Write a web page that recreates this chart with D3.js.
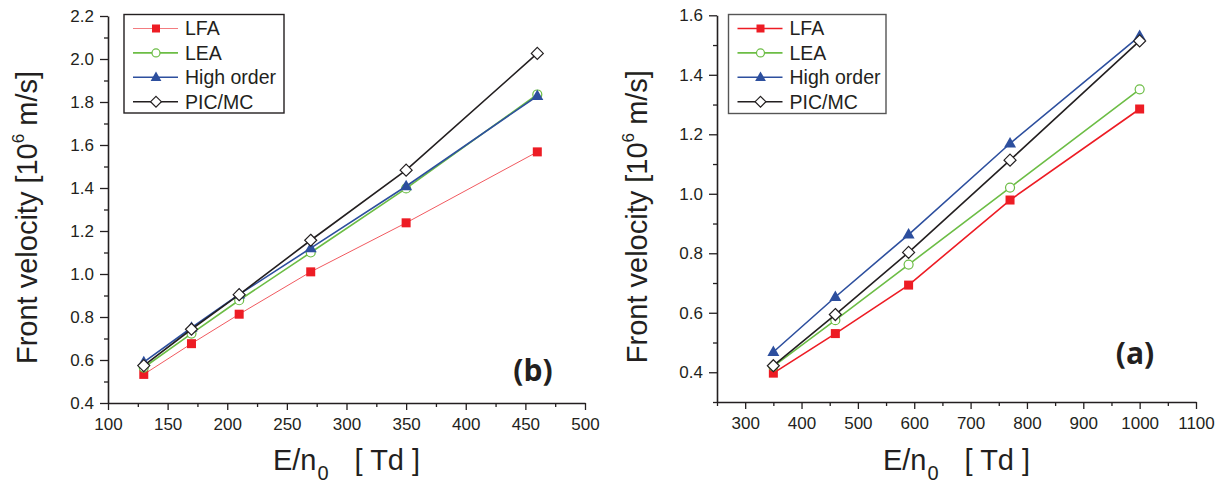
<!DOCTYPE html>
<html>
<head>
<meta charset="utf-8">
<script src="https://cdn.jsdelivr.net/npm/d3@7"></script>
<style>
  html, body { margin: 0; padding: 0; background: #fff; }
  svg { display: block; }
</style>
</head>
<body>
<svg id="chart" width="1224" height="484"></svg>
<script>
// ---------- data ----------
const seriesNames = ["LFA", "LEA", "High order", "PIC/MC"];

// panel (b) — left
const xB = [130, 170, 210, 270, 350, 460];
const lfaB  = [0.533, 0.676, 0.813, 1.010, 1.238, 1.568];
const leaB  = [0.565, 0.723, 0.878, 1.100, 1.398, 1.835];
const highB = [0.590, 0.750, 0.905, 1.120, 1.408, 1.828];
const picB  = [0.574, 0.743, 0.904, 1.157, 1.483, 2.026];
const xTicksB = [100, 150, 200, 250, 300, 350, 400, 450, 500];
const xMinorB = [125, 175, 225, 275, 325, 375, 425, 475];
const yTicksB = [0.4, 0.6, 0.8, 1.0, 1.2, 1.4, 1.6, 1.8, 2.0, 2.2];
const yMinorB = [0.5, 0.7, 0.9, 1.1, 1.3, 1.5, 1.7, 1.9, 2.1];

// panel (a) — right
const xA = [350, 460, 590, 770, 1000];
const lfaA  = [0.397, 0.530, 0.693, 0.979, 1.285];
const leaA  = [0.420, 0.575, 0.762, 1.021, 1.351];
const highA = [0.468, 0.653, 0.863, 1.169, 1.530];
const picA  = [0.422, 0.594, 0.803, 1.113, 1.514];
const xTicksA = [300, 400, 500, 600, 700, 800, 900, 1000, 1100];
const xMinorA = [250, 350, 450, 550, 650, 750, 850, 950, 1050];
const yTicksA = [0.4, 0.6, 0.8, 1.0, 1.2, 1.4, 1.6];
const yMinorA = [0.3, 0.5, 0.7, 0.9, 1.1, 1.3, 1.5];

// ---------- styles ----------
const colors = { "LFA": "#ed1c24", "LEA": "#6cbd45", "High order": "#2d4f9e", "PIC/MC": "#231f20" };
const axisColor = "#231f20";
const fontSans = "Liberation Sans, Arial, Helvetica, sans-serif";

const svg = d3.select("#chart");

function drawMarker(g, name, x, y, s) {
  const c = colors[name];
  if (name === "LFA") {
    g.append("rect").attr("x", x - s / 2).attr("y", y - s / 2).attr("width", s).attr("height", s)
      .attr("fill", c).attr("stroke", "none");
  } else if (name === "LEA") {
    g.append("circle").attr("cx", x).attr("cy", y).attr("r", s / 2)
      .attr("fill", "#fff").attr("stroke", c).attr("stroke-width", 1.2);
  } else if (name === "High order") {
    const w = s * 1.2, h = s * 1.05;
    g.append("path").attr("d", `M${x},${y - h * 0.62}L${x + w / 2},${y + h * 0.38}L${x - w / 2},${y + h * 0.38}Z`)
      .attr("fill", c).attr("stroke", "none");
  } else {
    const r = s * 0.6;
    g.append("path").attr("d", `M${x},${y - r}L${x + r},${y}L${x},${y + r}L${x - r},${y}Z`)
      .attr("fill", "#fff").attr("stroke", c).attr("stroke-width", 1.2);
  }
}

function panel(opt) {
  const g = svg.append("g");
  const x = d3.scaleLinear().domain(opt.xDomain).range(opt.xRange);
  const y = d3.scaleLinear().domain(opt.yDomain).range(opt.yRange);
  const y0 = opt.yRange[0], x0 = opt.xRange[0];

  // minor ticks
  g.append("g").attr("transform", `translate(0,${y0})`)
    .call(d3.axisBottom(x).tickValues(opt.xMinor).tickSize(4).tickSizeOuter(0).tickFormat(""))
    .call(a => a.select(".domain").remove())
    .call(a => a.selectAll("line").attr("stroke", axisColor).attr("stroke-width", 1.3));
  g.append("g").attr("transform", `translate(${x0},0)`)
    .call(d3.axisLeft(y).tickValues(opt.yMinor).tickSize(4).tickSizeOuter(0).tickFormat(""))
    .call(a => a.select(".domain").remove())
    .call(a => a.selectAll("line").attr("stroke", axisColor).attr("stroke-width", 1.3));

  // major axes
  g.append("g").attr("transform", `translate(0,${y0})`)
    .call(d3.axisBottom(x).tickValues(opt.xTicks).tickSize(7).tickSizeOuter(0).tickPadding(8).tickFormat(d3.format("d")))
    .call(a => a.select(".domain").attr("stroke", axisColor).attr("stroke-width", 1.6))
    .call(a => a.selectAll("line").attr("stroke", axisColor).attr("stroke-width", 1.3))
    .call(a => a.selectAll("text").attr("font-size", 17).attr("fill", "#231f20").attr("font-family", fontSans));
  g.append("g").attr("transform", `translate(${x0},0)`)
    .call(d3.axisLeft(y).tickValues(opt.yTicks).tickSize(8).tickSizeOuter(0).tickPadding(6).tickFormat(d3.format(".1f")))
    .call(a => a.select(".domain").attr("stroke", axisColor).attr("stroke-width", 1.6))
    .call(a => a.selectAll("line").attr("stroke", axisColor).attr("stroke-width", 1.3))
    .call(a => a.selectAll("text").attr("font-size", 17).attr("fill", "#231f20").attr("font-family", fontSans));

  // series
  const line = d3.line().x(d => x(d[0])).y(d => y(d[1]));
  opt.series.forEach((vals, i) => {
    const name = seriesNames[i];
    const pts = opt.xs.map((xv, j) => [xv, vals[j]]);
    g.append("path").datum(pts).attr("d", line).attr("fill", "none")
      .attr("stroke", (opt.thinLFA && name === "LFA") ? "#f15a60" : colors[name])
      .attr("stroke-width", (opt.thinLFA && name === "LFA") ? 1 : 1.6);
    const mg = g.append("g");
    pts.forEach(p => drawMarker(mg, name, x(p[0]), y(p[1]), opt.markerSize[i]));
  });

  // legend
  const L = opt.legend;
  g.append("rect").attr("x", L.x).attr("y", L.y).attr("width", L.w).attr("height", L.h)
    .attr("fill", "#fff").attr("stroke", L.stroke).attr("stroke-width", 1.4);
  seriesNames.forEach((name, i) => {
    const cy = L.y + 14 + i * 24.4;
    g.append("line").attr("x1", L.x + 9).attr("x2", L.x + 54).attr("y1", cy).attr("y2", cy)
      .attr("stroke", (opt.thinLFA && name === "LFA") ? "#f37c80" : colors[name])
      .attr("stroke-width", (opt.thinLFA && name === "LFA") ? 1 : 1.6);
    drawMarker(g, name, L.x + 32, cy, [8, 8, 9, 9][i]);
    g.append("text").attr("x", L.x + 61).attr("y", cy + 6.8).text(name)
      .attr("font-family", fontSans).attr("font-size", 19.5).attr("fill", "#231f20");
  });

  // y title
  const cxT = opt.yTitleX, cyT = (opt.yRange[0] + opt.yRange[1]) / 2 + 8;
  const yt = g.append("text").attr("transform", `translate(${cxT},${cyT}) rotate(-90)`)
    .attr("text-anchor", "middle").attr("font-family", fontSans).attr("font-size", 29).attr("fill", "#231f20");
  yt.append("tspan").text("Front velocity [10");
  yt.append("tspan").text("6").attr("font-size", 17).attr("dy", -13);
  yt.append("tspan").text(" m/s]").attr("dy", 13);

  // x title
  const xt = g.append("text").attr("x", (opt.xRange[0] + opt.xRange[1]) / 2).attr("y", 470)
    .attr("text-anchor", "middle").attr("font-family", fontSans).attr("font-size", 29).attr("fill", "#231f20");
  xt.append("tspan").text("E/n");
  xt.append("tspan").text("0").attr("font-size", 20).attr("dy", 10).attr("dx", 1);
  xt.append("tspan").text("[ Td ]").attr("dy", -10).attr("dx", 26);

  // panel label
  g.append("text").attr("x", opt.labelPos[0]).attr("y", opt.labelPos[1]).attr("text-anchor", "middle")
    .attr("font-family", "Open Sans, DejaVu Sans, sans-serif").attr("font-weight", 700)
    .attr("font-size", 30).attr("fill", "#231f20").text(opt.label);
}

panel({
  xDomain: [100, 500], xRange: [108, 585],
  yDomain: [0.4, 2.2], yRange: [403, 16],
  xTicks: xTicksB, xMinor: xMinorB, yTicks: yTicksB, yMinor: yMinorB,
  xs: xB, series: [lfaB, leaB, highB, picB], thinLFA: true,
  markerSize: [9, 9, 10, 10],
  legend: { x: 124, y: 14.5, w: 160, h: 98.5, stroke: "#231f20" },
  yTitleX: 37, label: "(b)", labelPos: [533, 381]
});

panel({
  xDomain: [250, 1100], xRange: [717, 1196],
  yDomain: [0.3, 1.6], yRange: [402, 15.3],
  xTicks: xTicksA, xMinor: xMinorA, yTicks: yTicksA, yMinor: yMinorA,
  xs: xA, series: [lfaA, leaA, highA, picA], thinLFA: false,
  markerSize: [9, 9, 10, 10],
  legend: { x: 728.5, y: 14.5, w: 157.5, h: 99, stroke: "#555" },
  yTitleX: 647, label: "(a)", labelPos: [1135, 364]
});
</script>
</body>
</html>
